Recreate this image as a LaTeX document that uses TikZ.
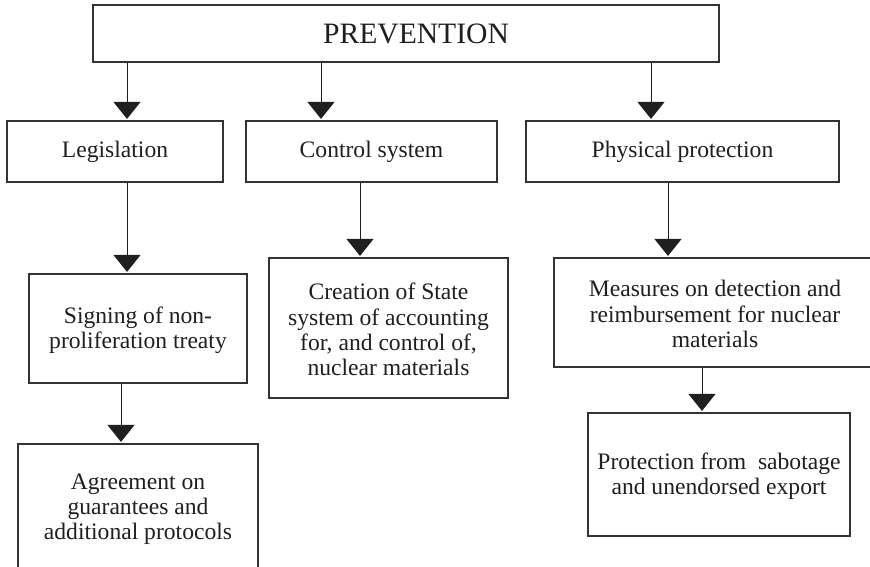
\documentclass[tikz,border=0pt]{standalone}
\usepackage{fontspec}
\setmainfont{Liberation Serif}
\usetikzlibrary{arrows.meta}
\newcommand\mydn{\rule{0pt}{20pt}}
\tikzset{
  box/.style={draw=black!80, line width=1.2pt, rectangle, inner sep=0pt, align=center,
    text=black!88, font=\fontsize{23.6}{25.4}\selectfont},
  arr/.style={draw=black!85, line width=1pt, shorten >=1.5pt,
    -{Triangle[width=27pt,length=17pt]}, color=black!88}
}
\begin{document}
\begin{tikzpicture}[x=1pt,y=-1pt]
\useasboundingbox (0,0) rectangle (870,566);
\fill[white] (0,0) rectangle (870,566);
\clip (0,0) rectangle (870,566);

\node[box, minimum width=626pt, minimum height=57pt,
      font=\fontsize{29.6}{31}\selectfont] (prev) at (406,33.5) {\hspace*{20pt}PREVENTION};

\node[box, minimum width=216pt, minimum height=61pt] (leg) at (115,151.5) {Legislation};
\node[box, minimum width=251pt, minimum height=61pt] (ctrl) at (371.5,151.5) {Control system};
\node[box, minimum width=313pt, minimum height=61pt] (phys) at (682.5,151.5) {Physical protection};

\node[box, minimum width=218pt, minimum height=109pt] (sign) at (138,328.5)
  {\mydn Signing of non-\\proliferation treaty};
\node[box, minimum width=240pt, minimum height=126pt] (agree) at (138,507)
  {\mydn Agreement on\\guarantees and\\additional protocols};
\node[box, minimum width=239pt, minimum height=140pt] (creat) at (388.5,328)
  {\mydn Creation of State\\system of accounting\\for, and control of,\\nuclear materials};
\node[box, minimum width=322pt, minimum height=109pt] (meas) at (715,312.5)
  {\mydn Measures on detection and\\reimbursement for nuclear\\materials};
\node[box, minimum width=262pt, minimum height=123pt] (prot) at (719,474.5)
  {\mydn Protection from\ \ sabotage\\and unendorsed export};

\coordinate (c1) at (127,0);
\coordinate (c2) at (321,0);
\coordinate (c3) at (651,0);
\coordinate (c4) at (127,0);
\coordinate (c5) at (360,0);
\coordinate (c6) at (668,0);
\coordinate (c7) at (121,0);
\coordinate (c8) at (702,0);

\draw[arr] (prev.south -| c1) -- (leg.north -| c1);
\draw[arr] (prev.south -| c2) -- (ctrl.north -| c2);
\draw[arr] (prev.south -| c3) -- (phys.north -| c3);
\draw[arr] (leg.south -| c4) -- (sign.north -| c4);
\draw[arr] (ctrl.south -| c5) -- (creat.north -| c5);
\draw[arr] (phys.south -| c6) -- (meas.north -| c6);
\draw[arr] (sign.south -| c7) -- (agree.north -| c7);
\draw[arr] (meas.south -| c8) -- (prot.north -| c8);
\end{tikzpicture}
\end{document}
